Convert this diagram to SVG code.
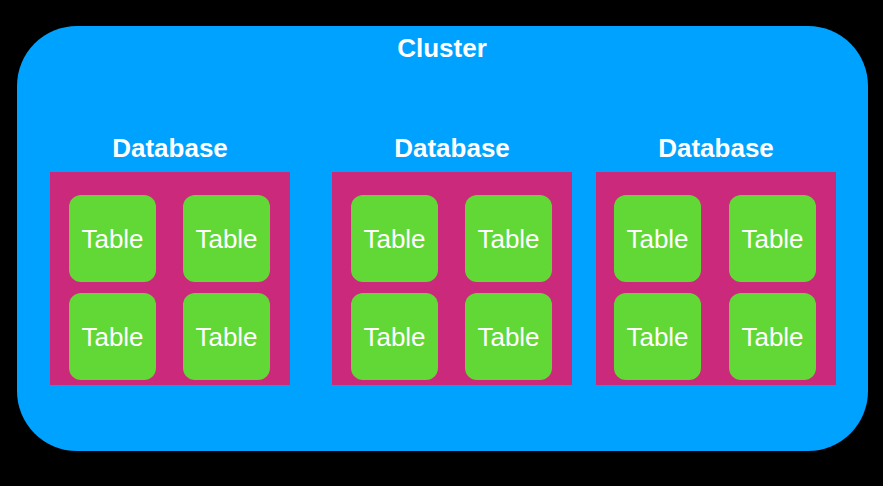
<svg xmlns="http://www.w3.org/2000/svg" width="883" height="486" viewBox="0 0 883 486">
<style>
.lbl{fill:#fff;font-family:"Liberation Sans",Arial,sans-serif;text-anchor:middle}
.b{font-weight:bold;font-size:26px}
.t{font-size:26px}
.db{fill:#CB297B}
.tb{fill:#61D836}
</style>
<rect width="883" height="486" fill="#000"/>
<g id="cluster">
<rect x="17" y="26" width="851" height="425" rx="60" fill="#00A2FF"/>
<text class="lbl b" x="442" y="57">Cluster</text>
</g>
<g id="db1">
<text class="lbl b" x="170" y="157">Database</text>
<rect class="db" x="50" y="172" width="240" height="213"/>
</g>
<g id="db2">
<text class="lbl b" x="452" y="157">Database</text>
<rect class="db" x="332" y="172" width="240" height="213"/>
</g>
<g id="db3">
<text class="lbl b" x="716" y="157">Database</text>
<rect class="db" x="596" y="172" width="240" height="213"/>
</g>
<g id="t1a"><rect class="tb" x="69" y="195" width="87" height="87" rx="12"/><text class="lbl t" x="112.5" y="248">Table</text></g>
<g id="t1b"><rect class="tb" x="183" y="195" width="87" height="87" rx="12"/><text class="lbl t" x="226.5" y="248">Table</text></g>
<g id="t1c"><rect class="tb" x="69" y="293" width="87" height="87" rx="12"/><text class="lbl t" x="112.5" y="346">Table</text></g>
<g id="t1d"><rect class="tb" x="183" y="293" width="87" height="87" rx="12"/><text class="lbl t" x="226.5" y="346">Table</text></g>
<g id="t2a"><rect class="tb" x="351" y="195" width="87" height="87" rx="12"/><text class="lbl t" x="394.5" y="248">Table</text></g>
<g id="t2b"><rect class="tb" x="465" y="195" width="87" height="87" rx="12"/><text class="lbl t" x="508.5" y="248">Table</text></g>
<g id="t2c"><rect class="tb" x="351" y="293" width="87" height="87" rx="12"/><text class="lbl t" x="394.5" y="346">Table</text></g>
<g id="t2d"><rect class="tb" x="465" y="293" width="87" height="87" rx="12"/><text class="lbl t" x="508.5" y="346">Table</text></g>
<g id="t3a"><rect class="tb" x="614" y="195" width="87" height="87" rx="12"/><text class="lbl t" x="657.5" y="248">Table</text></g>
<g id="t3b"><rect class="tb" x="729" y="195" width="87" height="87" rx="12"/><text class="lbl t" x="772.5" y="248">Table</text></g>
<g id="t3c"><rect class="tb" x="614" y="293" width="87" height="87" rx="12"/><text class="lbl t" x="657.5" y="346">Table</text></g>
<g id="t3d"><rect class="tb" x="729" y="293" width="87" height="87" rx="12"/><text class="lbl t" x="772.5" y="346">Table</text></g>
<g id="connectors"/>
</svg>
